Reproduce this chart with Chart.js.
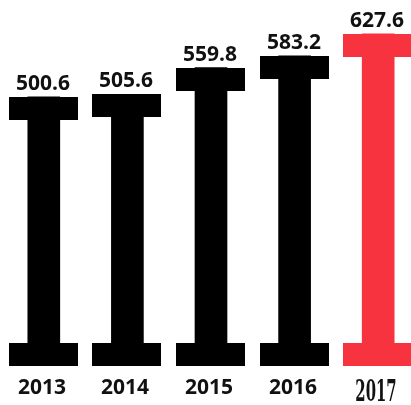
<!DOCTYPE html>
<html>
<head>
<meta charset="utf-8">
<script src="https://cdn.jsdelivr.net/npm/chart.js@4"></script>
<style>
  html, body { margin: 0; padding: 0; background: #fff; overflow: hidden; }
  #wrap { width: 420px; height: 405px; }
</style>
</head>
<body>
<div id="wrap"><canvas id="chart" width="420" height="405"></canvas></div>
<script>
const years = ['2013', '2014', '2015', '2016', '2017'];
const values = [500.6, 505.6, 559.8, 583.2, 627.6];
const colors = ['#000000', '#000000', '#000000', '#000000', '#f6333f'];

const CAP_W = 69;
const CAP_H = 23;

// caps, value labels and year labels around each stem
const beamPlugin = {
  id: 'beam',
  afterDatasetsDraw(chart) {
    const ctx = chart.ctx;
    const meta = chart.getDatasetMeta(0);
    const base = chart.scales.y.getPixelForValue(0);
    ctx.save();
    meta.data.forEach((bar, i) => {
      const x = Math.round(bar.x);
      const top = Math.round(bar.y);
      ctx.fillStyle = colors[i];
      ctx.fillRect(x - 35, top, CAP_W, CAP_H);
      ctx.fillRect(x - 35, Math.round(base) - 2, CAP_W, CAP_H);

      ctx.fillStyle = '#111';
      ctx.textAlign = 'center';
      ctx.textBaseline = 'alphabetic';
      ctx.font = 'bold 21px "Open Sans"';
      ctx.fillText(values[i].toFixed(1), x - 1, top - 7);

      if (i === years.length - 1) {
        // last year set in a tall condensed slab serif
        ctx.save();
        ctx.translate(x - 2, 401);
        ctx.scale(0.55, 1);
        ctx.font = 'bold 30px "DejaVu Serif Condensed"';
        ctx.fillText(years[i], 0, 0);
        ctx.restore();
      } else {
        ctx.fillText(years[i], x - 2, 394);
      }
    });
    ctx.restore();
  }
};

new Chart(document.getElementById('chart'), {
  type: 'bar',
  data: {
    labels: years,
    datasets: [{
      data: values,
      backgroundColor: colors,
      barThickness: 32,
      borderWidth: 0
    }]
  },
  options: {
    responsive: false,
    animation: false,
    layout: { padding: { left: 2, right: 0, top: 0, bottom: 60 } },
    plugins: { legend: { display: false }, tooltip: { enabled: false } },
    scales: {
      x: { display: false },
      y: { display: false, min: 0, max: 696 }
    }
  },
  plugins: [beamPlugin]
});
</script>
</body>
</html>
